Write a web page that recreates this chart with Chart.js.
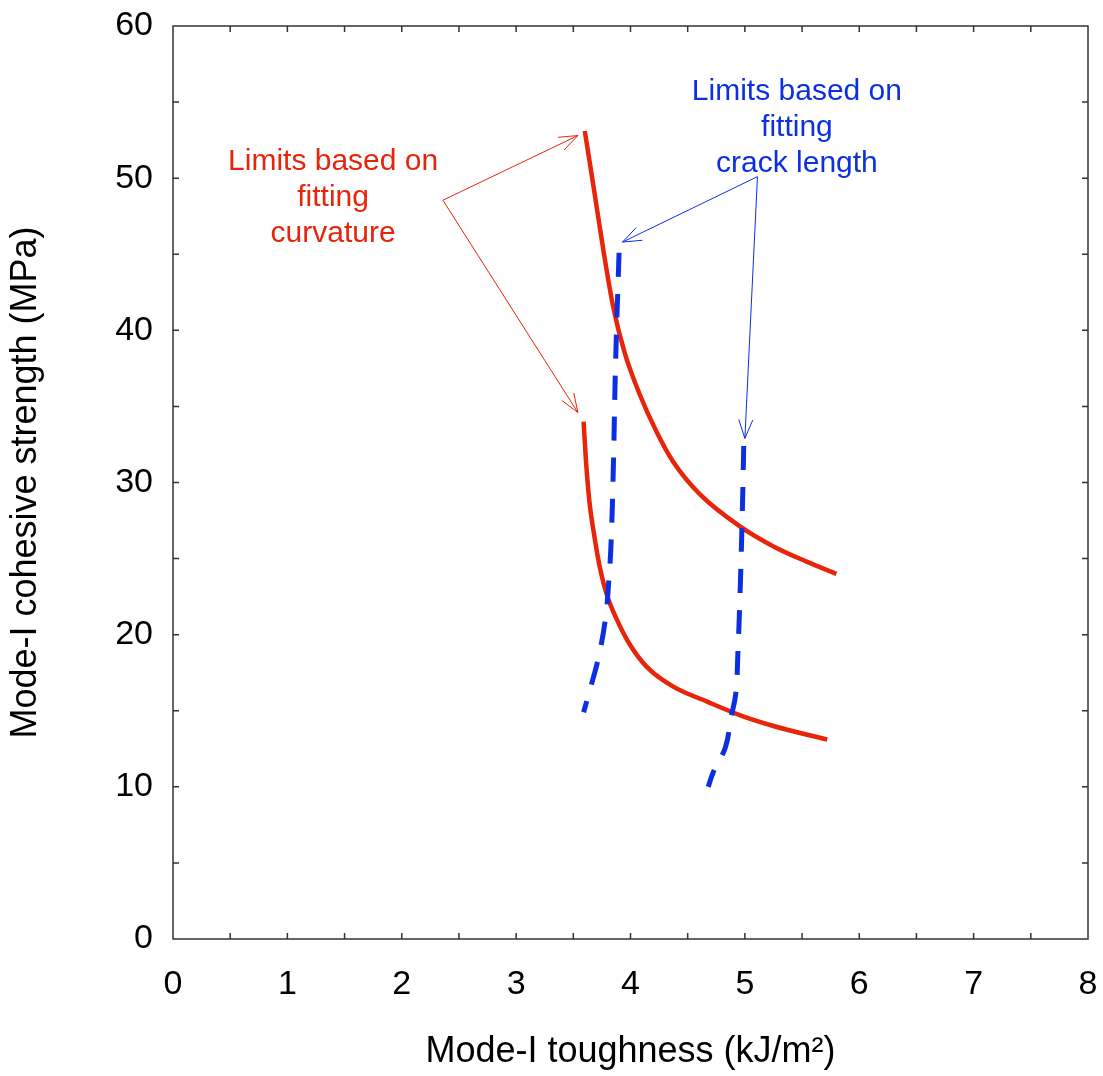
<!DOCTYPE html>
<html>
<head>
<meta charset="utf-8">
<script src="https://cdn.jsdelivr.net/npm/chart.js@4.4.1/dist/chart.umd.min.js"></script>
<style>
    html, body { margin: 0; padding: 0; background: #fff; }
    #wrap { width: 1103px; height: 1076px; }
</style>
</head>
<body>
<div id="wrap"><canvas id="chart" width="1103" height="1076"></canvas></div>
<script>
// curves (x = toughness kJ/m2, y = cohesive strength MPa)
let curvUpperX = [3.60, 3.68, 3.76, 3.85, 3.95, 4.08, 4.23, 4.37, 4.61, 4.96, 5.25, 5.54, 5.80];
let curvUpperY = [53.1, 49.3, 45.4, 41.5, 38.5, 35.8, 33.3, 31.4, 29.2, 27.1, 25.8, 24.8, 24.0];

let curvLowerX = [3.59, 3.61, 3.64, 3.69, 3.73, 3.79, 3.88, 3.99, 4.14, 4.37, 4.67, 4.96, 5.25, 5.72];
let curvLowerY = [34.0, 31.5, 28.8, 26.2, 24.5, 22.7, 21.0, 19.4, 17.9, 16.6, 15.6, 14.7, 14.0, 13.1];

let crackLeftX = [3.90, 3.87, 3.85, 3.83, 3.81, 3.78, 3.72, 3.65, 3.59];
let crackLeftY = [45.1, 38.0, 31.0, 26.0, 23.5, 21.0, 18.5, 16.5, 14.9];

let crackRightX = [4.99, 4.98, 4.96, 4.94, 4.92, 4.88, 4.83, 4.72, 4.68];
let crackRightY = [32.4, 28.8, 23.2, 19.0, 16.1, 14.6, 12.6, 10.9, 10.0];

let xTicks = [0, 1, 2, 3, 4, 5, 6, 7, 8];
let yTicks = [0, 10, 20, 30, 40, 50, 60];

// annotation text and arrows (data coordinates)
let redLabel = ['Limits based on', 'fitting', 'curvature'];
let redLabelAt = [1.40, 51.05];
let redArrows = [[2.36, 48.55, 3.54, 52.8], [2.36, 48.55, 3.54, 34.6]];

let blueLabel = ['Limits based on', 'fitting', 'crack length'];
let blueLabelAt = [5.455, 55.65];
let blueArrows = [[5.11, 50.1, 3.93, 45.8], [5.11, 50.1, 5.00, 32.9]];

const RED = '#e8240a';
const BLUE = '#0c2fe2';
const FONT = "'Liberation Sans', Arial, Helvetica, sans-serif";

function toPoints(xs, ys) {
    return xs.map((x, i) => ({ x: x, y: ys[i] }));
}

function drawArrow(ctx, x1, y1, x2, y2) {
    let ang = Math.atan2(y2 - y1, x2 - x1);
    let len = 20;
    let spread = 0.36;
    ctx.beginPath();
    ctx.moveTo(x1, y1);
    ctx.lineTo(x2, y2);
    ctx.moveTo(x2 - len * Math.cos(ang - spread), y2 - len * Math.sin(ang - spread));
    ctx.lineTo(x2, y2);
    ctx.lineTo(x2 - len * Math.cos(ang + spread), y2 - len * Math.sin(ang + spread));
    ctx.stroke();
}

const framePlugin = {
    id: 'frame',
    afterDatasetsDraw(chart) {
        let ctx = chart.ctx;
        let area = chart.chartArea;
        let xs = chart.scales.x;
        let ys = chart.scales.y;
        ctx.save();
        ctx.strokeStyle = '#333';
        ctx.lineWidth = 1.5;
        ctx.strokeRect(area.left, area.top, area.right - area.left, area.bottom - area.top);

        // inward ticks on all four sides
        let tl = 6;
        ctx.beginPath();
        for (let v = 0.5; v < 8; v += 0.5) {
            let px = xs.getPixelForValue(v);
            ctx.moveTo(px, area.bottom);
            ctx.lineTo(px, area.bottom - tl);
            ctx.moveTo(px, area.top);
            ctx.lineTo(px, area.top + tl);
        }
        for (let v = 5; v < 60; v += 5) {
            let py = ys.getPixelForValue(v);
            ctx.moveTo(area.left, py);
            ctx.lineTo(area.left + tl, py);
            ctx.moveTo(area.right, py);
            ctx.lineTo(area.right - tl, py);
        }
        ctx.stroke();

        // annotations
        ctx.lineWidth = 1;
        ctx.font = '30px ' + FONT;
        ctx.textAlign = 'center';
        ctx.textBaseline = 'middle';
        let groups = [
            [redLabel, redLabelAt, redArrows, RED],
            [blueLabel, blueLabelAt, blueArrows, BLUE]
        ];
        groups.forEach(g => {
            let cx = xs.getPixelForValue(g[1][0]);
            let cy = ys.getPixelForValue(g[1][1]);
            ctx.fillStyle = g[3];
            g[0].forEach((line, i) => ctx.fillText(line, cx, cy + i * 36));
            ctx.strokeStyle = g[3];
            g[2].forEach(a => {
                drawArrow(ctx, xs.getPixelForValue(a[0]), ys.getPixelForValue(a[1]),
                    xs.getPixelForValue(a[2]), ys.getPixelForValue(a[3]));
            });
        });
        ctx.restore();
    }
};

function lineSet(xs, ys, color, dashed) {
    let ds = {
        data: toPoints(xs, ys),
        showLine: true,
        borderColor: color,
        backgroundColor: color,
        borderWidth: dashed ? 5 : 4.5,
        borderDash: dashed ? [24, 17] : [],
        pointRadius: 0,
        tension: 0.4,
        fill: false
    };
    if (!dashed) ds.cubicInterpolationMode = 'monotone';
    return ds;
}

new Chart(document.getElementById('chart'), {
    type: 'scatter',
    data: {
        datasets: [
            lineSet(crackLeftX, crackLeftY, BLUE, true),
            lineSet(crackRightX, crackRightY, BLUE, true),
            lineSet(curvUpperX, curvUpperY, RED, false),
            lineSet(curvLowerX, curvLowerY, RED, false)
        ]
    },
    options: {
        responsive: false,
        animation: false,
        layout: { padding: { top: 26, right: 15, left: 0, bottom: 0 } },
        plugins: { legend: { display: false }, tooltip: { enabled: false } },
        scales: {
            x: {
                type: 'linear',
                min: 0,
                max: 8,
                afterBuildTicks: s => { s.ticks = xTicks.map(v => ({ value: v })); },
                afterFit: s => { s.height = 137; s.paddingLeft = 0; s.paddingRight = 0; },
                grid: { display: false, drawTicks: false },
                border: { display: false },
                ticks: { color: '#000', padding: 25, font: { family: FONT, size: 34 } },
                title: {
                    display: true,
                    text: 'Mode-I toughness (kJ/m²)',
                    color: '#000',
                    font: { family: FONT, size: 36 },
                    padding: { top: 0, bottom: 2 }
                }
            },
            y: {
                type: 'linear',
                min: 0,
                max: 60,
                afterBuildTicks: s => { s.ticks = yTicks.map(v => ({ value: v })); },
                afterFit: s => { s.width = 173; s.paddingTop = 0; s.paddingBottom = 0; },
                grid: { display: false, drawTicks: false },
                border: { display: false },
                ticks: { color: '#000', padding: 20, font: { family: FONT, size: 34 } },
                title: {
                    display: true,
                    text: 'Mode-I cohesive strength (MPa)',
                    color: '#000',
                    font: { family: FONT, size: 36 },
                    padding: { top: 4, bottom: 0 }
                }
            }
        }
    },
    plugins: [framePlugin]
});
</script>
</body>
</html>
